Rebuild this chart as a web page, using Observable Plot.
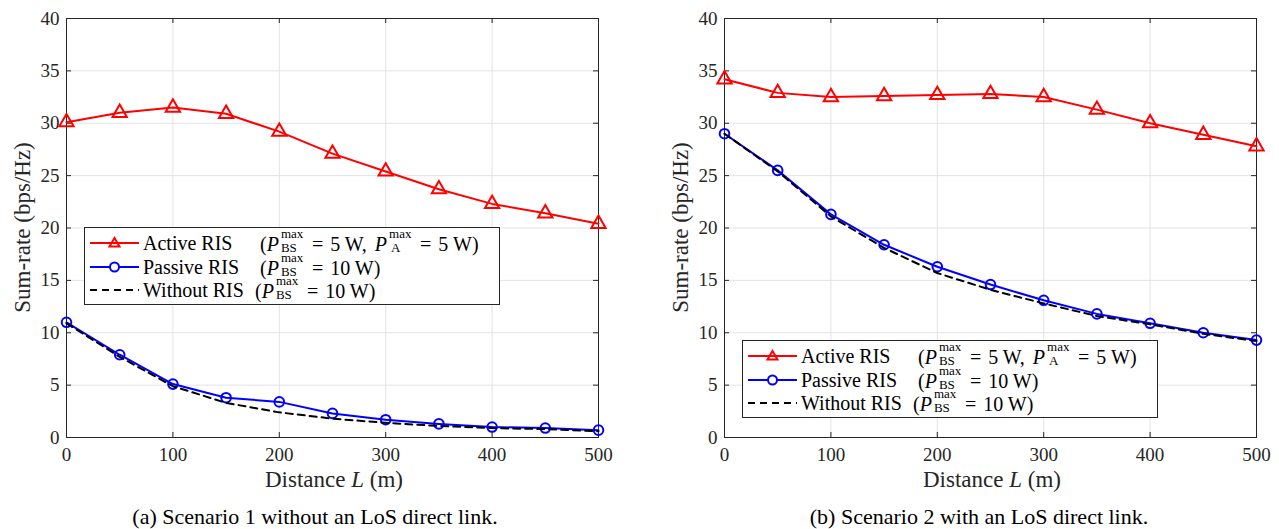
<!DOCTYPE html>
<html><head><meta charset="utf-8">
<script src="https://cdn.jsdelivr.net/npm/d3@7"></script>
<script src="https://cdn.jsdelivr.net/npm/@observablehq/plot@0.6"></script>
<style>
body{margin:0;background:#fff;font-family:'Liberation Serif';}
#wrap, #wrap *{font-family:'Liberation Serif'}
#wrap{position:relative;width:1279px;height:529px;overflow:hidden;background:#fff}
.panel{position:absolute;top:0}
.caption{position:absolute;top:504px;font-size:22px;line-height:26px;color:#000;white-space:nowrap;transform:translateX(-50%)}
.legend{position:absolute;border:1px solid #262626;background:#fff;font-size:20px;color:#000;box-sizing:border-box}
.row{position:absolute;left:0;height:24px;width:100%}
.row svg{position:absolute;left:5px;top:0}
.name{position:absolute;left:58px;top:0;line-height:24px;white-space:nowrap}
.math{position:absolute;top:0;line-height:24px;white-space:nowrap}
.ss{display:inline-block;position:relative;width:23px;height:1em;margin-left:2px;margin-right:1px}
.ss .sup{position:absolute;left:0;top:-3px;font-size:13px;line-height:11px}
.ss .sub{position:absolute;left:0;top:11px;font-size:13px;line-height:11px}
.eq{margin:0 7px}
.sp{margin-left:3px}
</style>
</head><body>
<div id="wrap"></div>
<script>
// ---- data ----
const distance = [0, 50, 100, 150, 200, 250, 300, 350, 400, 450, 500];
const activeA  = [30.1, 31.0, 31.5, 30.9, 29.2, 27.1, 25.4, 23.7, 22.3, 21.4, 20.4];
const passiveA = [11.0, 7.9, 5.1, 3.8, 3.4, 2.3, 1.7, 1.3, 1.0, 0.9, 0.7];
const withoutA = [10.9, 7.7, 4.9, 3.3, 2.4, 1.8, 1.4, 1.1, 0.9, 0.8, 0.6];
const activeB  = [34.2, 32.9, 32.5, 32.6, 32.7, 32.8, 32.5, 31.3, 30.0, 28.9, 27.8];
const passiveB = [29.0, 25.5, 21.3, 18.4, 16.3, 14.6, 13.1, 11.8, 10.9, 10.0, 9.3];
const withoutB = [29.0, 25.4, 21.1, 18.1, 15.7, 14.1, 12.8, 11.6, 10.8, 9.9, 9.2];
const xTicks = [0, 100, 200, 300, 400, 500];
const yTicks = [0, 5, 10, 15, 20, 25, 30, 35, 40];
const seriesNames = ["Active RIS", "Passive RIS", "Without RIS"];
const captions = ["(a) Scenario 1 without an LoS direct link.", "(b) Scenario 2 with an LoS direct link."];
const xLabel = ["Distance ", "L", " (m)"];
const yLabel = "Sum-rate (bps/Hz)";

const FONT = "'Liberation Serif'";
const wrap = document.getElementById("wrap");
const toRows = v => distance.map((d, i) => ({x: d, y: v[i]}));

function panel(active, passive, without, cfg) {
  const W = cfg.width, H = 495;
  const mt = 18, mb = H - 437;
  const plotH = 437 - mt, plotW = W - cfg.ml - cfg.mr;
  const tkY = 5 / plotH * 40, tkX = 5 / plotW * 500;
  const chart = Plot.plot({
    width: W, height: H,
    marginLeft: cfg.ml, marginRight: cfg.mr, marginTop: mt, marginBottom: mb,
    x: {domain: [0, 500]},
    y: {domain: [0, 40]},
    style: {fontFamily: FONT, fontSize: "19px", color: "#262626", background: "#fff"},
    marks: [
      Plot.gridX(xTicks, {stroke: "#e3e3e3", strokeOpacity: 1}),
      Plot.gridY(yTicks, {stroke: "#e3e3e3", strokeOpacity: 1}),
      Plot.ruleX(xTicks, {x: d => d, y1: 0, y2: tkY, stroke: "#262626"}),
      Plot.ruleX(xTicks, {x: d => d, y1: 40 - tkY, y2: 40, stroke: "#262626"}),
      Plot.ruleY(yTicks, {y: d => d, x1: 0, x2: tkX, stroke: "#262626"}),
      Plot.ruleY(yTicks, {y: d => d, x1: 500 - tkX, x2: 500, stroke: "#262626"}),
      Plot.frame({stroke: "#262626", strokeWidth: 1}),
      Plot.axisX(xTicks, {tickSize: 0, tickPadding: 10, label: null, fontSize: 19}),
      Plot.axisY(yTicks, {tickSize: 0, tickPadding: 7, label: null, fontSize: 19}),
      Plot.line(toRows(active), {x: "x", y: "y", stroke: "#ff0000", strokeWidth: 2}),
      Plot.dot(toRows(active), {x: "x", y: "y", symbol: "triangle", r: 5.3, stroke: "#ff0000", strokeWidth: 2, fill: "none"}),
      Plot.line(toRows(passive), {x: "x", y: "y", stroke: "#0000ff", strokeWidth: 2}),
      Plot.dot(toRows(passive), {x: "x", y: "y", symbol: "circle", r: 4.8, stroke: "#0000ff", strokeWidth: 2, fill: "none"}),
      Plot.line(toRows(without), {x: "x", y: "y", stroke: "#000", strokeWidth: 2, strokeDasharray: "7,5"})
    ]
  });
  const svg = d3.select(chart);
  svg.append("text")
    .attr("transform", `translate(${cfg.ml - 44},${(mt + 437) / 2}) rotate(-90)`)
    .attr("text-anchor", "middle").attr("dy", "0.35em")
    .attr("font-size", 23).attr("fill", "#262626").text(yLabel);
  const xl = svg.append("text")
    .attr("x", cfg.ml + plotW / 2 + 2).attr("y", 487)
    .attr("text-anchor", "middle").attr("font-size", 23).attr("fill", "#262626");
  xl.append("tspan").text(xLabel[0]);
  xl.append("tspan").attr("font-style", "italic").text(xLabel[1]);
  xl.append("tspan").text(xLabel[2]);

  const div = document.createElement("div");
  div.className = "panel";
  div.style.left = cfg.left + "px";
  div.appendChild(chart);

  // legend
  const lg = document.createElement("div");
  lg.className = "legend";
  lg.style.left = cfg.lgLeft + "px"; lg.style.top = cfg.lgTop + "px";
  lg.style.width = "416px"; lg.style.height = "78px";
  const PBS = `<i>P</i><span class="ss"><span class="sup">max</span><span class="sub">BS</span></span>`;
  const PA = `<i>P</i><span class="ss"><span class="sup">max</span><span class="sub" style="left:2px">A</span></span>`;
  const maths = [
    `(${PBS}<span class="eq">=</span>5 W,<span class="sp"></span> ${PA}<span class="eq">=</span>5 W)`,
    `(${PBS}<span class="eq">=</span>10 W)`,
    `(${PBS}<span class="eq">=</span>10 W)`
  ];
  const mathLeft = [175, 175, 170];
  const samples = [
    `<line x1="0" y1="12" x2="49" y2="12" stroke="#ff0000" stroke-width="2"/><path d="M24.5,7 L29.5,15.5 L19.5,15.5 Z" fill="none" stroke="#ff0000" stroke-width="2"/>`,
    `<line x1="0" y1="12" x2="49" y2="12" stroke="#0000ff" stroke-width="2"/><circle cx="24.5" cy="12" r="4.5" fill="#fff" stroke="#0000ff" stroke-width="2"/>`,
    `<line x1="0" y1="12" x2="49" y2="12" stroke="#000" stroke-width="2" stroke-dasharray="7,5"/>`
  ];
  seriesNames.forEach((n, i) => {
    const r = document.createElement("div");
    r.className = "row"; r.style.top = (3 + i * 23.5) + "px";
    r.innerHTML = `<svg width="50" height="24">${samples[i]}</svg><span class="name">${n}</span><span class="math" style="left:${mathLeft[i]}px">${maths[i]}</span>`;
    lg.appendChild(r);
  });
  div.appendChild(lg);
  wrap.appendChild(div);

  const cap = document.createElement("div");
  cap.className = "caption";
  cap.style.left = cfg.capX + "px";
  cap.textContent = cfg.caption;
  wrap.appendChild(cap);
}

panel(activeA, passiveA, withoutA, {left: 0, width: 640, ml: 66, mr: 42, lgLeft: 84, lgTop: 227, capX: 315, caption: captions[0]});
panel(activeB, passiveB, withoutB, {left: 640, width: 639, ml: 84, mr: 23, lgLeft: 102, lgTop: 340, capX: 979, caption: captions[1]});
</script>
</body></html>
